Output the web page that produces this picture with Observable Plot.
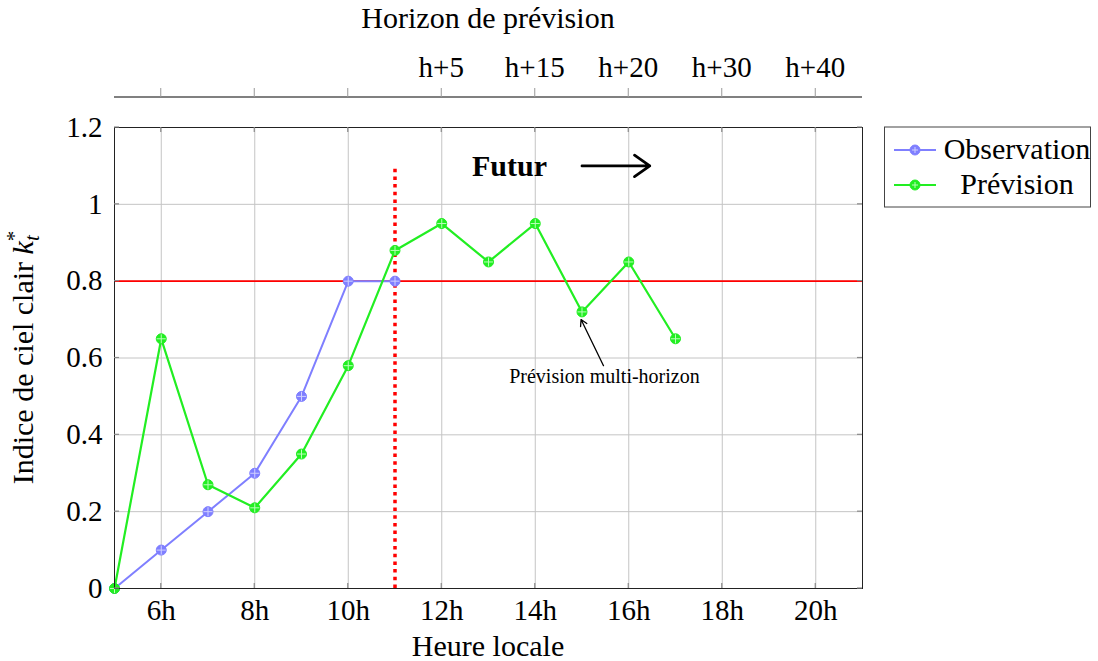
<!DOCTYPE html>
<html>
<head>
<meta charset="utf-8">
<script src="https://cdn.jsdelivr.net/npm/d3@7"></script>
<script src="https://cdn.jsdelivr.net/npm/@observablehq/plot@0.6"></script>
<style>
  html, body { margin: 0; padding: 0; background: #fff; }
  #chart svg { display: block; }
</style>
</head>
<body>
<div id="chart"></div>
<script>
// ---- data ----
const obsHours = [5, 6, 7, 8, 9, 10, 11];
const obsValues = [0, 0.1, 0.2, 0.3, 0.5, 0.8, 0.8];
const prevHours = [5, 6, 7, 8, 9, 10, 11, 12, 13, 14, 15, 16, 17];
const prevValues = [0, 0.65, 0.27, 0.21, 0.35, 0.58, 0.88, 0.95, 0.85, 0.95, 0.72, 0.85, 0.65];
const xTicks = [6, 8, 10, 12, 14, 16, 18, 20];
const yTicks = [0, 0.2, 0.4, 0.6, 0.8, 1, 1.2];
const horizonTicks = [12, 14, 16, 18, 20];
const horizonLabels = ["h+5", "h+15", "h+20", "h+30", "h+40"];
const threshold = 0.8;
const nowHour = 11;
const nowTop = 1.1;
const futurPos = {x: 13.45, y: 1.1};
const futurArrow = {x1: 15.0, x2: 16.45, y: 1.1};
const annotText = {x: 15.48, y: 0.535, label: "Prévision multi-horizon"};
const annotArrow = {x1: 15.46, y1: 0.58, x2: 14.98, y2: 0.7};
const seriesNames = ["Observation", "Prévision"];
const seriesColors = ["#7f7fff", "#22ee22"];
const seriesLight = ["#d0d0ff", "#b8ffb8"];

const obs = obsHours.map((h, i) => ({h, v: obsValues[i]}));
const prev = prevHours.map((h, i) => ({h, v: prevValues[i]}));

const font = "'Liberation Serif', 'DejaVu Serif', serif";
const tickFont = 29;
const labelFont = 30;

const chart = Plot.plot({
  width: 1098,
  height: 661,
  marginLeft: 114,
  marginRight: 236,
  marginTop: 127,
  marginBottom: 73,
  style: {fontFamily: font, fontSize: "29px", background: "white", color: "black"},
  x: {domain: [5, 21]},
  y: {domain: [0, 1.2]},
  marks: [
    Plot.gridX(xTicks, {stroke: "#c4c4c4", strokeOpacity: 1, strokeWidth: 1}),
    Plot.gridY(yTicks, {stroke: "#c4c4c4", strokeOpacity: 1, strokeWidth: 1}),
    Plot.ruleY([threshold], {stroke: "#ff0000", strokeWidth: 1.6}),
    Plot.ruleX([nowHour], {y1: 0, y2: nowTop, stroke: "#ff0000", strokeWidth: 3.5, strokeDasharray: "3.5,4.2"}),
    Plot.line(obs, {x: "h", y: "v", stroke: seriesColors[0], strokeWidth: 2}),
    Plot.line(prev, {x: "h", y: "v", stroke: seriesColors[1], strokeWidth: 2.2}),
    Plot.dot(obs, {x: "h", y: "v", r: 5, fill: seriesColors[0], stroke: seriesColors[0], strokeWidth: 1}),
    Plot.dot(obs, {x: "h", y: "v", r: 3, symbol: "plus", stroke: seriesLight[0], strokeWidth: 1}),
    Plot.dot(prev, {x: "h", y: "v", r: 5, fill: seriesColors[1], stroke: seriesColors[1], strokeWidth: 1}),
    Plot.dot(prev, {x: "h", y: "v", r: 3, symbol: "plus", stroke: seriesLight[1], strokeWidth: 1}),
    Plot.text([futurPos], {x: "x", y: "y", text: () => "Futur", fontWeight: "bold", fontSize: 30, lineAnchor: "middle", fill: "black"}),
    Plot.arrow([futurArrow], {x1: "x1", x2: "x2", y1: "y", y2: "y", stroke: "black", strokeWidth: 2.8, headLength: 10, headAngle: 70}),
    Plot.arrow([annotArrow], {x1: "x1", y1: "y1", x2: "x2", y2: "y2", stroke: "black", strokeWidth: 1.3, headLength: 8, headAngle: 60}),
    Plot.text([annotText], {x: "x", y: "y", text: "label", fontSize: 20, lineAnchor: "bottom", fill: "black"}),
    Plot.frame({stroke: "#222", strokeWidth: 1}),
    Plot.axisX(xTicks, {tickSize: 0, tickPadding: 11, tickFormat: d => d + "h", label: null, fontSize: tickFont}),
    Plot.axisY(yTicks, {tickSize: 0, tickPadding: 12, tickFormat: d => String(d), label: null, fontSize: tickFont})
  ]
});

document.getElementById("chart").appendChild(chart);

const svg = d3.select(chart);
const xs = chart.scale("x");
const ys = chart.scale("y");
const X = v => xs.apply(v);
const Y = v => ys.apply(v);
const pLeft = X(5), pRight = X(21), pTop = Y(1.2), pBottom = Y(0);

// inward ticks on the frame
const tg = svg.append("g").attr("stroke", "#8a8a8a").attr("stroke-width", 1.2);
xTicks.forEach(t => {
  tg.append("line").attr("x1", X(t)).attr("x2", X(t)).attr("y1", pBottom).attr("y2", pBottom - 5);
  tg.append("line").attr("x1", X(t)).attr("x2", X(t)).attr("y1", pTop).attr("y2", pTop + 5);
});
yTicks.forEach(t => {
  tg.append("line").attr("x1", pLeft).attr("x2", pLeft + 5).attr("y1", Y(t)).attr("y2", Y(t));
  tg.append("line").attr("x1", pRight).attr("x2", pRight - 5).attr("y1", Y(t)).attr("y2", Y(t));
});

// top horizon axis
const topAxisY = pTop - 30;
const ta = svg.append("g");
ta.append("line").attr("x1", pLeft).attr("x2", pRight).attr("y1", topAxisY).attr("y2", topAxisY)
  .attr("stroke", "#808080").attr("stroke-width", 2);
xTicks.forEach(t => {
  ta.append("line").attr("x1", X(t)).attr("x2", X(t)).attr("y1", topAxisY).attr("y2", topAxisY - 9)
    .attr("stroke", "#999").attr("stroke-width", 1);
});
horizonTicks.forEach((t, i) => {
  ta.append("text").attr("x", X(t)).attr("y", 77).attr("text-anchor", "middle")
    .attr("font-family", font).attr("font-size", tickFont).attr("fill", "black").text(horizonLabels[i]);
});
const cx = (pLeft + pRight) / 2;
svg.append("text").attr("x", cx).attr("y", 28).attr("text-anchor", "middle")
  .attr("font-family", font).attr("font-size", labelFont).attr("fill", "black").text("Horizon de prévision");

// x axis label
svg.append("text").attr("x", cx).attr("y", 656).attr("text-anchor", "middle")
  .attr("font-family", font).attr("font-size", labelFont).attr("fill", "black").text("Heure locale");

// y axis label
const yl = svg.append("text")
  .attr("transform", `translate(33,${(pTop + pBottom) / 2}) rotate(-90)`)
  .attr("text-anchor", "middle")
  .attr("font-family", font).attr("font-size", labelFont).attr("fill", "black");
yl.append("tspan").text("Indice de ciel clair ");
yl.append("tspan").attr("font-style", "italic").text("k");
yl.append("tspan").attr("font-size", 21).attr("font-style", "italic").attr("dy", 6).text("t");
yl.append("tspan").attr("font-size", 21).attr("dx", -6).attr("dy", -18).text("*");

// legend
const lg = svg.append("g");
lg.append("rect").attr("x", 884.5).attr("y", 127).attr("width", 206).attr("height", 80)
  .attr("fill", "white").attr("stroke", "#444").attr("stroke-width", 1);
seriesNames.forEach((name, i) => {
  const yy = 150 + i * 35;
  lg.append("line").attr("x1", 894).attr("x2", 936).attr("y1", yy).attr("y2", yy)
    .attr("stroke", seriesColors[i]).attr("stroke-width", 2);
  lg.append("circle").attr("cx", 915).attr("cy", yy).attr("r", 5)
    .attr("fill", seriesColors[i]).attr("stroke", seriesColors[i]);
  lg.append("path").attr("d", `M912,${yy}h6M915,${yy - 3}v6`).attr("stroke", seriesLight[i]).attr("stroke-width", 1);
  lg.append("text").attr("x", 1017).attr("y", yy + 9).attr("text-anchor", "middle")
    .attr("font-family", font).attr("font-size", labelFont).attr("fill", "black").text(name);
});
</script>
</body>
</html>
